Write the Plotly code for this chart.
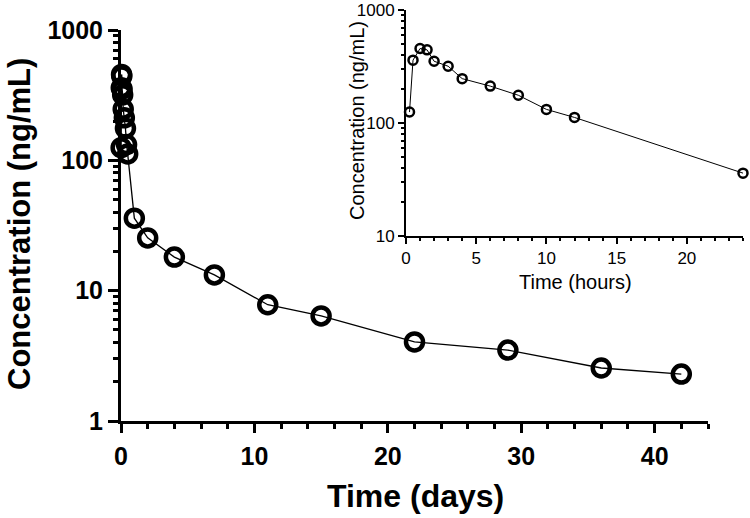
import plotly.graph_objects as go

# Data
hours = [0.25, 0.5, 1, 1.5, 2, 3, 4, 6, 8, 10, 12, 24]
conc_hours = [125, 360, 456, 444, 352, 318, 247, 212, 176, 132, 112, 36]
later_days = [2, 4, 7, 11, 15, 22, 29, 36, 42]
later_conc = [25.4, 18.1, 13.2, 7.8, 6.4, 4.04, 3.5, 2.55, 2.29]

days = [h / 24 for h in hours] + later_days
conc_days = conc_hours + later_conc

main_yticks = [1, 10, 100, 1000]
main_ylabels = ["1", "10", "100", "1000"]
inset_yticks = [10, 100, 1000]
inset_ylabels = ["10", "100", "1000"]
minor_log = [m * 10 ** e for e in range(0, 3) for m in range(2, 10)]

W, H = 750, 518
ML, MR, MT, MB = 121, 5, 10, 97
pw = W - ML - MR
ph = H - MT - MB

def px_x(x):
    return (x - ML) / pw

def px_y(y):
    return (H - MB - y) / ph

fig = go.Figure()
fig.add_trace(go.Scatter(
    x=days, y=conc_days, mode="lines+markers",
    line=dict(color="black", width=1.3),
    marker=dict(symbol="circle-open", size=17, color="black",
                line=dict(color="black", width=4.5)),
    cliponaxis=False, xaxis="x", yaxis="y", showlegend=False))
fig.add_trace(go.Scatter(
    x=hours, y=conc_hours, mode="lines+markers",
    line=dict(color="black", width=1),
    marker=dict(symbol="circle-open", size=9, color="black",
                line=dict(color="black", width=2.5)),
    cliponaxis=False, xaxis="x2", yaxis="y2", showlegend=False))

FAM = "Liberation Sans, Arial, sans-serif"
bold = dict(family=FAM, size=25, color="black", weight="bold")
reg = dict(family=FAM, size=17, color="black")

fig.update_layout(
    width=W, height=H,
    margin=dict(l=ML, r=MR, t=MT, b=MB, autoexpand=False),
    paper_bgcolor="white", plot_bgcolor="rgba(0,0,0,0)",
    xaxis=dict(domain=[0, px_x(708)], range=[0, 44], tickmode="array",
               tickvals=[0, 10, 20, 30, 40], ticks="outside", ticklen=9,
               tickwidth=3, tickcolor="black", showline=True, linewidth=3,
               linecolor="black", showgrid=False, zeroline=False,
               tickfont=bold, anchor="y", automargin=False, ticklabelstandoff=2,
               minor=dict(dtick=2, ticks="outside", ticklen=5, tickwidth=3,
                          tickcolor="black", showgrid=False)),
    yaxis=dict(domain=[0, px_y(30)], type="log", range=[0, 3], tickmode="array",
               tickvals=main_yticks, ticktext=main_ylabels, ticks="outside",
               ticklen=10, tickwidth=3, tickcolor="black", showline=True,
               linewidth=3, linecolor="black", showgrid=False, zeroline=False,
               tickfont=bold, anchor="x", automargin=False,
               minor=dict(tickmode="array", tickvals=minor_log, ticks="outside",
                          ticklen=5, tickwidth=2.5, tickcolor="black", showgrid=False)),
    xaxis2=dict(domain=[px_x(406), px_x(743)], range=[0, 24], tickmode="array",
                tickvals=[0, 5, 10, 15, 20], ticks="outside", ticklen=6,
                tickwidth=2, tickcolor="black", showline=True, linewidth=2,
                linecolor="black", showgrid=False, zeroline=False,
                tickfont=reg, anchor="y2", automargin=False,
                minor=dict(dtick=1, ticks="outside", ticklen=3, tickwidth=1.5,
                           tickcolor="black", showgrid=False)),
    yaxis2=dict(domain=[px_y(236), px_y(10)], type="log", range=[1, 3],
                tickmode="array", tickvals=inset_yticks, ticktext=inset_ylabels,
                ticks="outside", ticklen=6, tickwidth=2, tickcolor="black",
                showline=True, linewidth=2, linecolor="black", showgrid=False,
                zeroline=False, tickfont=reg, anchor="x2", automargin=False,
                minor=dict(tickmode="array", tickvals=minor_log, ticks="outside",
                           ticklen=3, tickwidth=1.5, tickcolor="black", showgrid=False)),
)

def ann(text, x, y, size, weight="normal", angle=0):
    fig.add_annotation(text=text, xref="paper", yref="paper",
                       x=px_x(x), y=px_y(y), xanchor="center", yanchor="middle",
                       showarrow=False, textangle=angle,
                       font=dict(family=FAM, size=size, color="black", weight=weight))

ann("Time (days)", 415, 496, 32, "bold")
ann("Concentration (ng/mL)", 19, 224, 31, "bold", -90)
ann("Time (hours)", 575, 282, 20)
ann("Concentration (ng/mL)", 357, 121, 20, angle=-90)

fig.write_html("out.html", config={"displayModeBar": False},
               post_script="document.body.style.margin='0';document.body.style.padding='0';")
